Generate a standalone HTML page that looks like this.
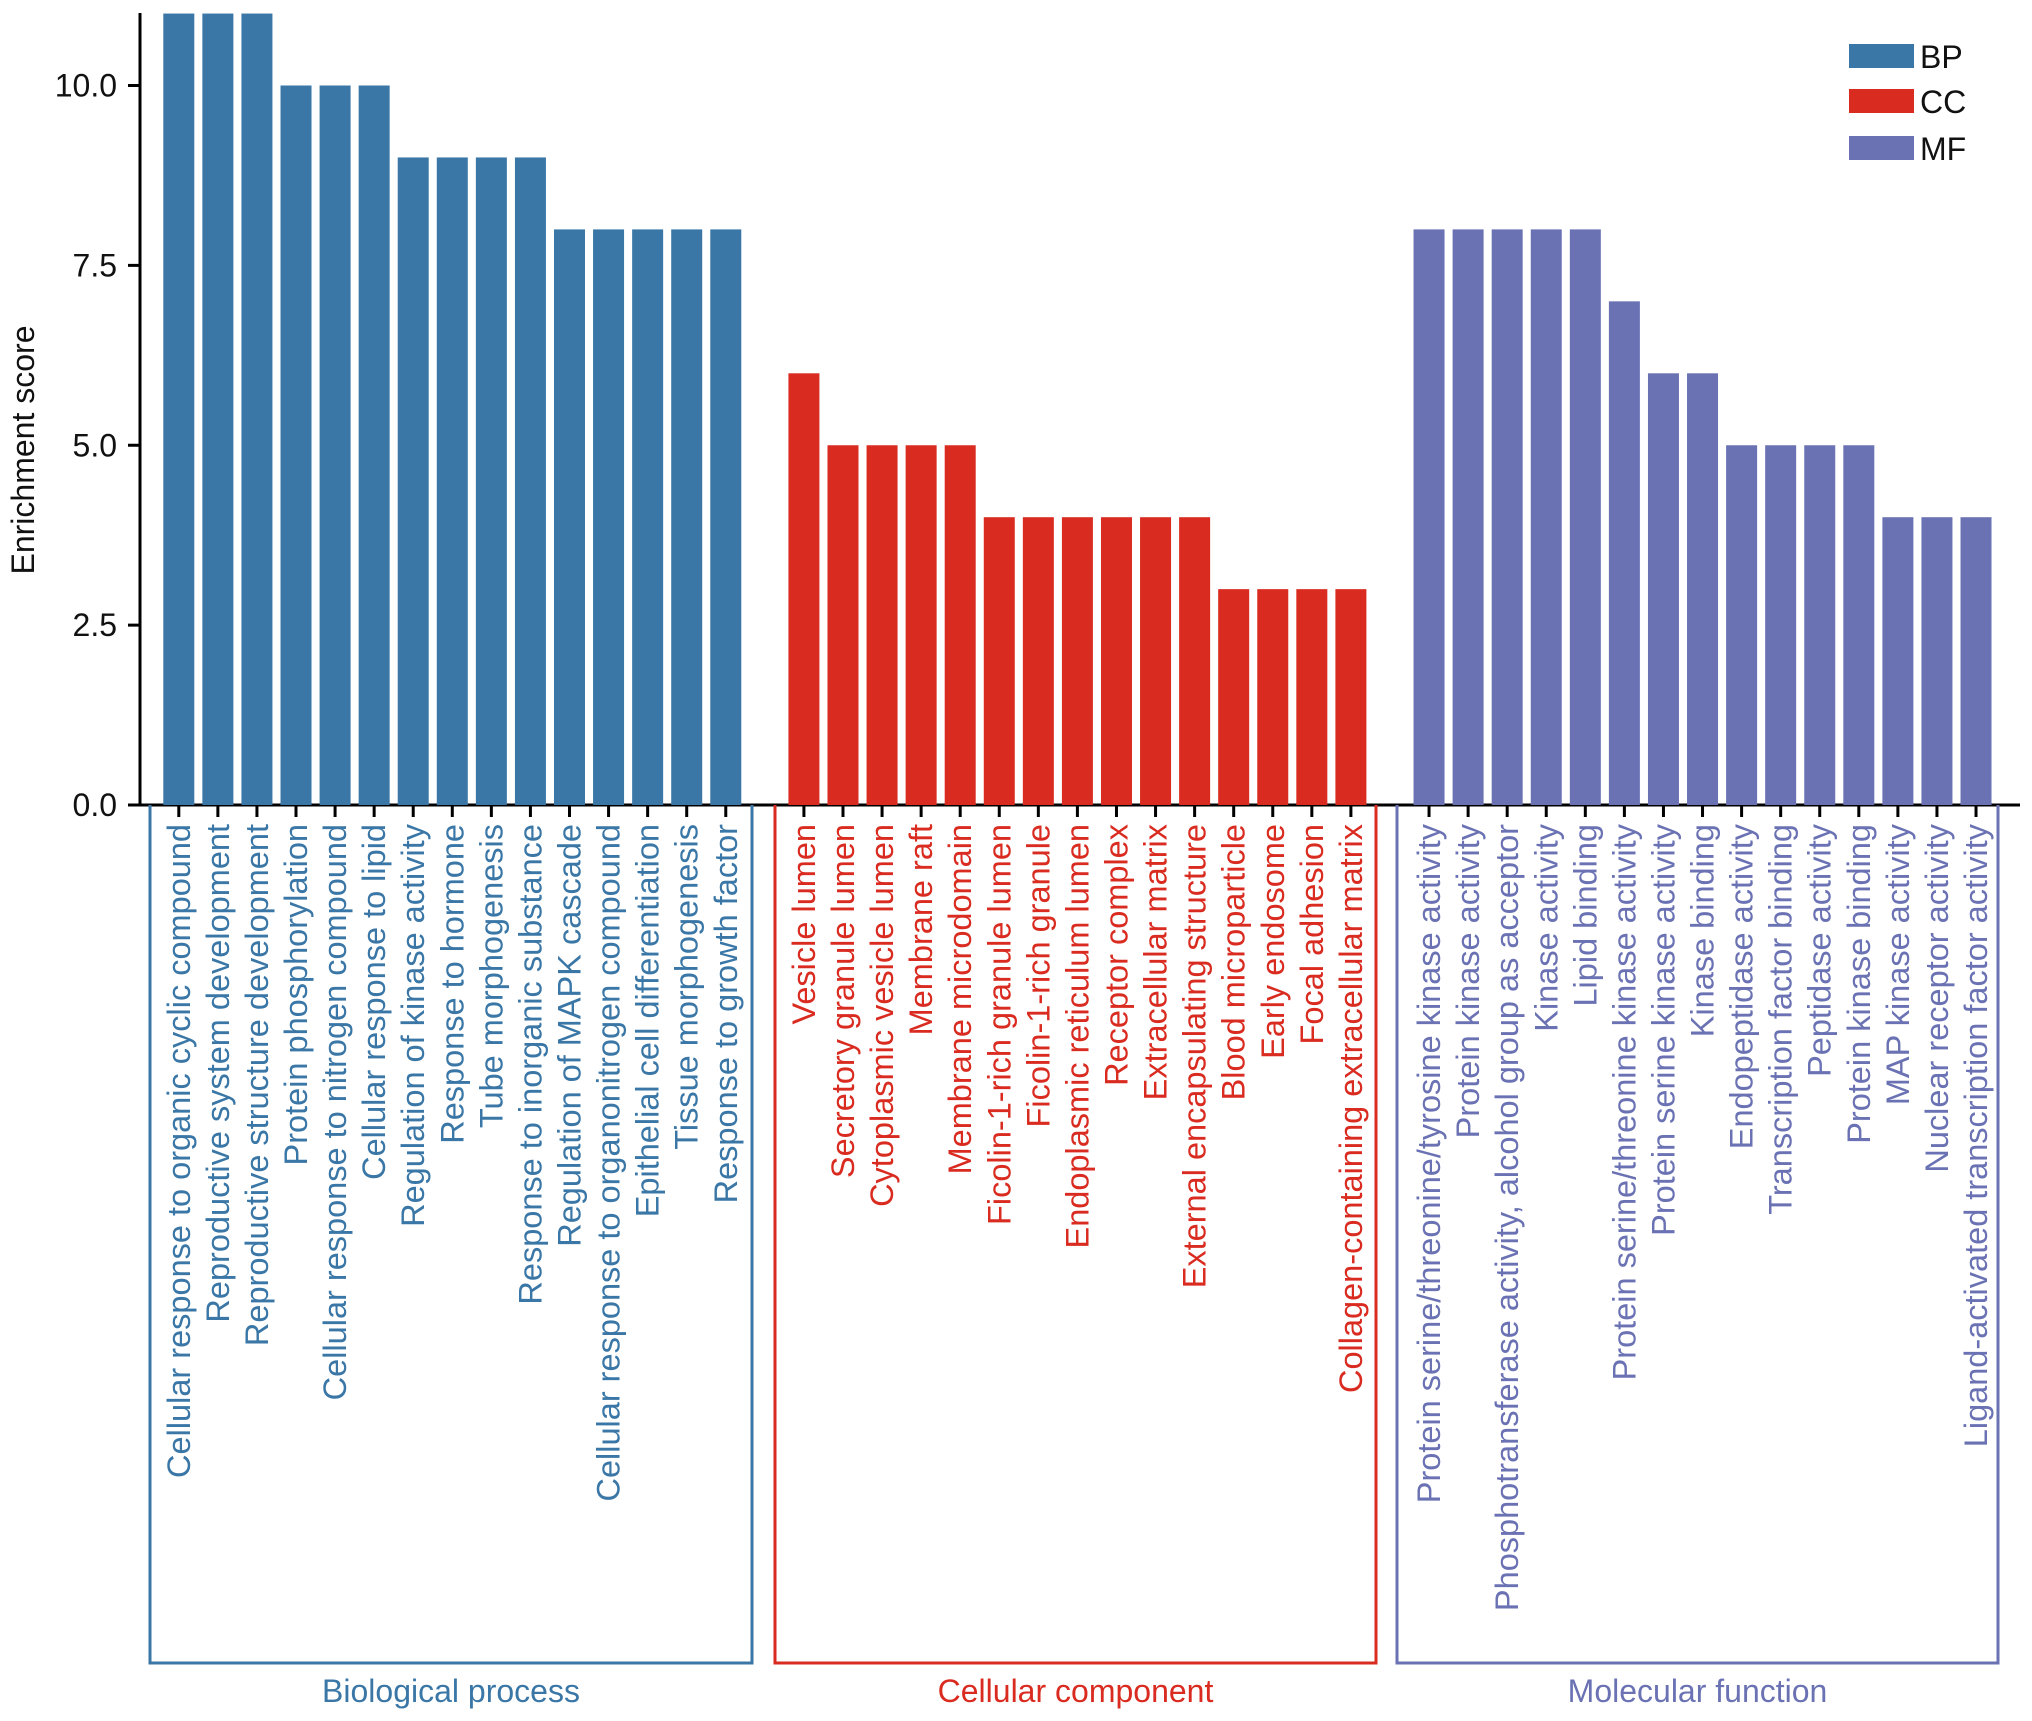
<!DOCTYPE html>
<html><head><meta charset="utf-8"><style>
html,body{margin:0;padding:0;background:#fff}
svg{display:block;font-family:"Liberation Sans",Arial,sans-serif}
</style></head><body>
<svg id="chart" width="2032" height="1721" viewBox="0 0 2032 1721" xmlns="http://www.w3.org/2000/svg"></svg>
<script>
const bpLabels=["Cellular response to organic cyclic compound","Reproductive system development","Reproductive structure development","Protein phosphorylation","Cellular response to nitrogen compound","Cellular response to lipid","Regulation of kinase activity","Response to hormone","Tube morphogenesis","Response to inorganic substance","Regulation of MAPK cascade","Cellular response to organonitrogen compound","Epithelial cell differentiation","Tissue morphogenesis","Response to growth factor"];
const bpValues=[11,11,11,10,10,10,9,9,9,9,8,8,8,8,8];
const ccLabels=["Vesicle lumen","Secretory granule lumen","Cytoplasmic vesicle lumen","Membrane raft","Membrane microdomain","Ficolin-1-rich granule lumen","Ficolin-1-rich granule","Endoplasmic reticulum lumen","Receptor complex","Extracellular matrix","External encapsulating structure","Blood microparticle","Early endosome","Focal adhesion","Collagen-containing extracellular matrix"];
const ccValues=[6,5,5,5,5,4,4,4,4,4,4,3,3,3,3];
const mfLabels=["Protein serine/threonine/tyrosine kinase activity","Protein kinase activity","Phosphotransferase activity, alcohol group as acceptor","Kinase activity","Lipid binding","Protein serine/threonine kinase activity","Protein serine kinase activity","Kinase binding","Endopeptidase activity","Transcription factor binding","Peptidase activity","Protein kinase binding","MAP kinase activity","Nuclear receptor activity","Ligand-activated transcription factor activity"];
const mfValues=[8,8,8,8,8,7,6,6,5,5,5,5,4,4,4];
const yTicks=[0,2.5,5,7.5,10];
const groupNames=["Biological process","Cellular component","Molecular function"];
const legendKeys=["BP","CC","MF"];

const NS="http://www.w3.org/2000/svg";
const svg=document.getElementById('chart');
const colors=["#3A77A6","#D92B20","#6A72B3"];
const y0=805, pxPerUnit=71.95, x0=178.8, pitch=39.07, barW=31;
function yScale(v){return y0-v*pxPerUnit;}
function xSlot(i){return x0+i*pitch;}
function mk(tag,attrs,parent){const e=document.createElementNS(NS,tag);for(const k in attrs)e.setAttribute(k,attrs[k]);(parent||svg).appendChild(e);return e;}

const yAxis=mk('line',{x1:140,y1:13,x2:140,y2:y0,stroke:'#000','stroke-width':3});


yTicks.forEach(t=>{
  const tk=mk('line',{x1:128,x2:140,y1:yScale(t),y2:yScale(t),stroke:'#000','stroke-width':3});
  
  
  const tl=mk('text',{x:117,y:yScale(t)+11,'text-anchor':'end','font-size':32,fill:'#111'});
  tl.textContent=t.toFixed(1);
  
  
});
const yt=mk('text',{transform:'translate(34,450) rotate(-90)','text-anchor':'middle','font-size':32,fill:'#111'});
yt.textContent='Enrichment score';



const xAxis=mk('line',{x1:128,y1:y0,x2:2020,y2:y0,stroke:'#000','stroke-width':3});



const groups=[[bpLabels,bpValues],[ccLabels,ccValues],[mfLabels,mfValues]];
const boxes=[[150,752],[775,1376],[1397,1998]];
let slot=0;
groups.forEach((g,gi)=>{
  const [labels,vals]=g;
  vals.forEach((v,i)=>{
    const cx=xSlot(slot);
    const b=mk('rect',{x:cx-barW/2,y:yScale(v),width:barW,height:y0-yScale(v),fill:colors[gi]});
    
    
    const tk=mk('line',{x1:cx,x2:cx,y1:y0,y2:y0+12,stroke:'#000','stroke-width':3});
    
    
    const tl=mk('text',{transform:`translate(${cx+11},824) rotate(-90)`,'text-anchor':'end','font-size':32.5,fill:colors[gi]});
    tl.textContent=labels[i];
    
    
    slot++;
  });
  slot++;
  const [bx1,bx2]=boxes[gi];
  const br=mk('polyline',{points:`${bx1},${y0} ${bx1},1663 ${bx2},1663 ${bx2},${y0}`,fill:'none',stroke:colors[gi],'stroke-width':3});
  
  
  const gl=mk('text',{x:(bx1+bx2)/2,y:1702,'text-anchor':'middle','font-size':32,fill:colors[gi]});
  gl.textContent=groupNames[gi];
  
  
});

legendKeys.forEach((k,i)=>{
  const ly=[56,101,148][i];
  const r=mk('rect',{x:1849,y:ly-12,width:65,height:24,fill:colors[i]});
  
  
  const t=mk('text',{x:1920,y:ly+12,'font-size':32,fill:'#111'});
  t.textContent=k;
  
  
});
</script>
</body></html>
